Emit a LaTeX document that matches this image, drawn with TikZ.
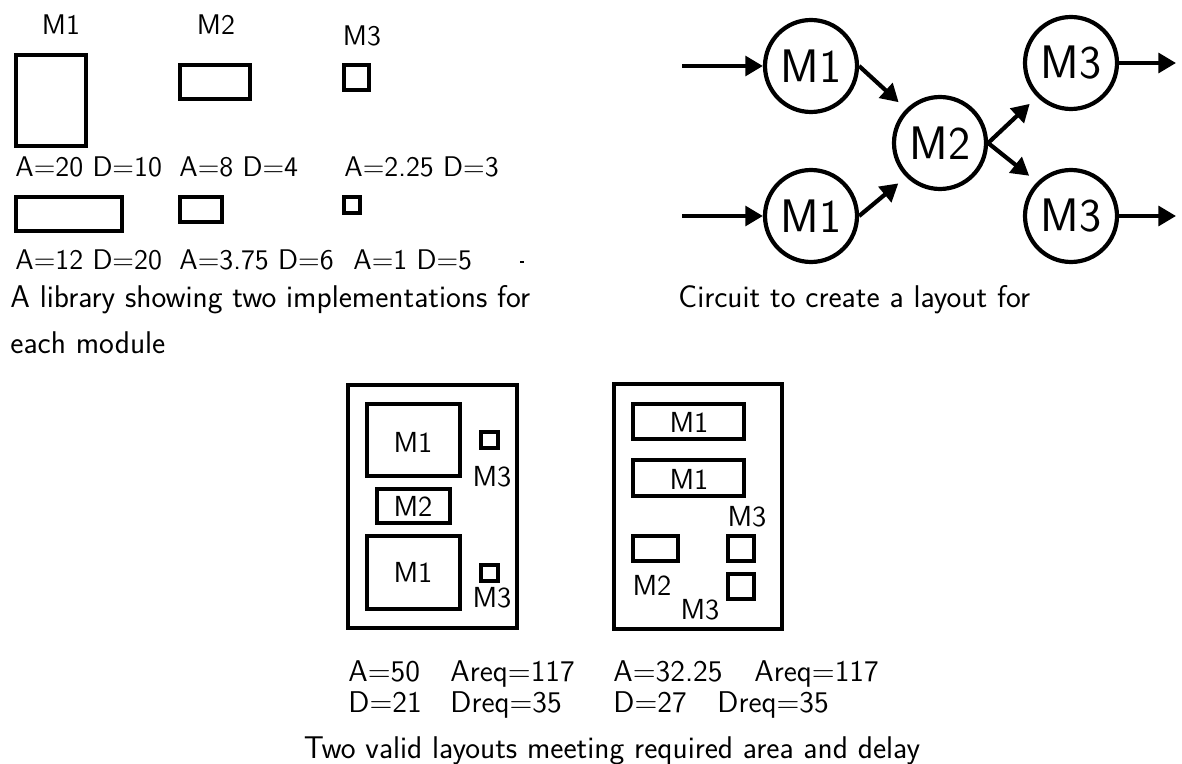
\documentclass[tikz,border=0pt]{standalone}
\usetikzlibrary{arrows.meta}
\begin{document}
\begin{tikzpicture}[x=0.5pt,y=-0.5pt,font=\sffamily,
  box/.style={draw,line width=2pt},
  thinbox/.style={draw,line width=1.6pt},
  lib/.style={font=\sffamily\fontsize{14.2}{16}\selectfont,inner sep=0pt},
  libtxt/.style={lib,anchor=base west},
  captxt/.style={font=\sffamily\fontsize{15.7}{18}\selectfont,inner sep=0pt,anchor=base west},
  circ/.style={draw,circle,line width=2.1pt,minimum size=46pt,inner sep=0pt,
    font=\sffamily\fontsize{23.5}{26}\selectfont},
  lay/.style={font=\sffamily\fontsize{14.5}{16}\selectfont,inner sep=0pt},
  laytxt/.style={font=\sffamily\fontsize{15}{17}\selectfont,inner sep=0pt,anchor=base west},
  arr/.style={line width=2.1pt,-{Triangle[length=8.8pt,width=9.8pt]}}]
\useasboundingbox (0,0) rectangle (1182,764);

% ---------- library ----------
\node[lib] (hm1) at (61,25) {M1};
\node[lib] (hm2) at (216,25) {M2};
\node[lib] (hm3) at (362,36) {M3};
\draw[box] (16,55) rectangle (86,146);
\draw[box] (180,65) rectangle (250,99);
\draw[box] (344,65) rectangle (369,90);
\node[libtxt] (t11) at (15,177) {A=20 D=10};
\node[libtxt] (t12) at (179,177) {A=8 D=4};
\node[libtxt] (t13) at (344,177) {A=2.25 D=3};
\draw[box] (16,197) rectangle (122,231);
\draw[box] (180,197) rectangle (222,222);
\draw[box] (344,197) rectangle (360,213);
\node[libtxt] (t21) at (15,270) {A=12 D=20};
\node[libtxt] (t22) at (179,270) {A=3.75 D=6};
\node[libtxt] (t23) at (353,270) {A=1 D=5};
\fill (520,261) rectangle (524,263);
\node[captxt] (c1a) at (10,307) {A library showing two implementations for};
\node[captxt] (c1b) at (10,353) {each module};

% ---------- circuit ----------
\node[circ] (m1a) at (811,66) {M1};
\node[circ] (m1b) at (811,216) {M1};
\node[circ] (m2) at (940,143) {M2};
\node[circ] (m3a) at (1071,63) {M3};
\node[circ] (m3b) at (1071,216) {M3};
\coordinate (ina) at (682,66);
\coordinate (inb) at (682,216);
\coordinate (outa) at (1176,63);
\coordinate (outb) at (1176,216);
\draw[arr] (ina) -- (m1a);
\draw[arr] (inb) -- (m1b);
\draw[arr,shorten >=5pt] (m1a.east) -- (m2.135);
\draw[arr,shorten >=5pt] (m1b.east) -- (m2.225);
\draw[arr,shorten >=5pt] (m2.east) -- (m3a.225);
\draw[arr,shorten >=5pt] (m2.east) -- (m3b.135);
\draw[arr] (m3a) -- (outa);
\draw[arr] (m3b) -- (outb);
\node[captxt] (c2) at (678,307) {Circuit to create a layout for};

% ---------- layout 1 ----------
\draw[box] (348,385) rectangle (517,628);
\draw[box] (367,404) rectangle (460,476);
\node[lay] (a1) at (413,442) {M1};
\draw[box] (481,432) rectangle (498,448);
\node[lay] (a3) at (492,477) {M3};
\draw[thinbox] (377,489) rectangle (450,523);
\node[lay] (a2) at (413,506) {M2};
\draw[box] (367,536) rectangle (460,609);
\node[lay] (a4) at (413,572) {M1};
\draw[box] (481,565) rectangle (498,581);
\node[lay] (a5) at (492,598) {M3};

% ---------- layout 2 ----------
\draw[box] (614,384) rectangle (782,629);
\draw[box] (633,404) rectangle (744,439);
\node[lay] (b1) at (689,422) {M1};
\draw[box] (633,460) rectangle (744,496);
\node[lay] (b2) at (689,479) {M1};
\node[lay] (b3) at (747,517) {M3};
\draw[box] (633,536) rectangle (678,561);
\node[lay] (b4) at (652,585) {M2};
\draw[box] (728,536) rectangle (754,561);
\draw[box] (728,574) rectangle (754,599);
\node[lay] (b5) at (700,610) {M3};

% ---------- figures ----------
\node[laytxt] (r1) at (348,681) {A=50};
\node[laytxt] (r2) at (450,681) {Areq=117};
\node[laytxt] (r3) at (613,681) {A=32.25};
\node[laytxt] (r4) at (754,681) {Areq=117};
\node[laytxt] (r5) at (348,712) {D=21};
\node[laytxt] (r6) at (450,712) {Dreq=35};
\node[laytxt] (r7) at (613,712) {D=27};
\node[laytxt] (r8) at (717,712) {Dreq=35};
\node[captxt,anchor=base] (c3) at (612,758) {Two valid layouts meeting required area and delay};
\end{tikzpicture}
\end{document}
